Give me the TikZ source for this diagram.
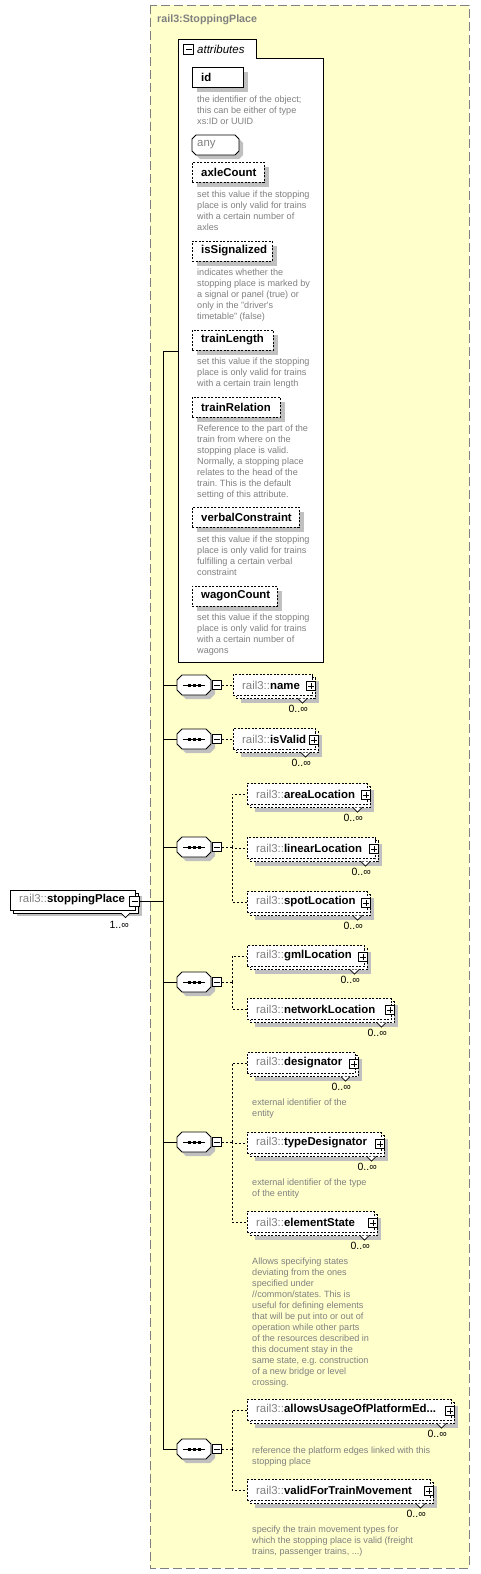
\documentclass[tikz,border=0pt]{standalone}
\usepackage{fontspec}
\setmainfont{Liberation Sans}
\frenchspacing
\definecolor{ybg}{RGB}{255,255,204}
\definecolor{yborder}{RGB}{128,128,128}
\definecolor{shadowc}{RGB}{192,192,192}
\definecolor{descc}{RGB}{128,128,128}
\definecolor{prefixc}{RGB}{128,128,128}
\definecolor{titlec}{RGB}{128,128,128}
\tikzset{
 conn/.style={draw=black, line width=1pt},
 dconn/.style={draw=black, line width=0.9pt, dash pattern=on 2pt off 2pt},
 ebox/.style={draw=black, fill=white, line width=0.8pt, inner sep=0},
 dashedbox/.style={ebox, dash pattern=on 2pt off 1.5pt},
 elabel/.style={font=\fontsize{11.4}{13}\selectfont, inner sep=0, anchor=west},
 desc/.style={font=\fontsize{9.1}{11}\selectfont, text=descc, align=left, inner sep=0, anchor=north west},
 mult/.style={font=\fontsize{10.5}{12}\selectfont, inner sep=0, anchor=east},
 pmbox/.style={draw=black, fill=white, line width=0.7pt, minimum size=9.5pt, inner sep=0},
 plusbox/.style={pmbox, path picture={\draw[line width=0.7pt] ([xshift=-3pt]path picture bounding box.center) -- ([xshift=3pt]path picture bounding box.center) ([yshift=-3pt]path picture bounding box.center) -- ([yshift=3pt]path picture bounding box.center);}},
 minusbox/.style={pmbox, path picture={\draw[line width=0.7pt] ([xshift=-3pt]path picture bounding box.center) -- ([xshift=3pt]path picture bounding box.center);}},
 hidden/.style={inner sep=0, draw=none, fill=none}
}
\newcommand\octpath[1]{(182,#1-10) -- (206,#1-10) -- (211,#1-5) -- (211,#1+5) -- (206,#1+10) -- (182,#1+10) -- (177,#1+5) -- (177,#1-5) -- cycle}
\newcommand\Seq[2]{%
 \fill[shadowc, shift={(4,4)}] \octpath{#2};
 \draw[line width=0.8pt, fill=white] \octpath{#2};
 \node[hidden, minimum width=34pt, minimum height=20pt] (#1) at (194,#2) {};
 \draw[line width=1pt] (183,#2) -- (205,#2);
 \fill (187.5,#2-1.5) rectangle (190.5,#2+1.5);
 \fill (192.5,#2-1.5) rectangle (195.5,#2+1.5);
 \fill (197.5,#2-1.5) rectangle (200.5,#2+1.5);
 \node[minusbox] (#1-m) at (217,#2) {};
}
\newcommand\Elem[5]{%
 \fill[shadowc] (#2+8,#4-4) rectangle (#3+7,#4+17.5);
 \draw[dashedbox] (#2+3,#4-7.5) rectangle (#3+3,#4+13.5);
 \node[dashedbox, minimum width={(#3-#2)*1pt}, minimum height=21pt, anchor=west] (#1) at (#2,#4) {};
 \node[elabel] (#1-t) at (#2+9,#4) {\textcolor{prefixc}{rail3::}\textbf{#5}};
 \draw[line width=0.7pt, fill=white] (#3-14,#4+13.5) -- (#3-9.5,#4+18) -- (#3-5,#4+13.5);
 \node[plusbox] (#1-p) at (#3-1,#4+1) {};
 \node[mult] (#1-m) at (#3-4,#4+24) {0..∞};
}
\newcommand\Attr[5]{%
 \fill[shadowc] (197,#3+5) rectangle (#2+5,#3+25);
 \node[#4, minimum width={(#2-192)*1pt}, minimum height=20pt, anchor=north west] (#1) at (192,#3) {};
 \node[elabel] (#1-t) at (201,#3+10) {\textbf{#5}};
}
\newcommand\Desc[4]{\node[desc] (#1) at (#2,#3-4) {#4};}
\begin{document}
\begin{tikzpicture}[x=1pt,y=-1pt]
\useasboundingbox (0,0) rectangle (480,1574);
\fill[white] (0,0) rectangle (480,1574);
% complex type frame
\draw[draw=yborder, fill=ybg, line width=1pt, dash pattern=on 9pt off 4pt] (150,5) rectangle (469,1568);
\node[anchor=west, inner sep=0, font=\bfseries\fontsize{10.7}{12}\selectfont, text=titlec] (title) at (157,20) {rail3:StoppingPlace};
% attributes box
\draw[line width=0.9pt, fill=white] (178,662) -- (178,39) -- (256,39) -- (256,58) -- (323,58) -- (323,662) -- cycle;
\node[minusbox] (attrm) at (188.5,49.5) {};
\node[anchor=west, inner sep=0, font=\itshape\fontsize{11.5}{13}\selectfont] (atitle) at (197,49) {attributes};
\coordinate (attrW) at (178,351);
\Attr{aid}{243}{67}{ebox}{id}
\Desc{aidd}{197}{100}{the identifier of the object;\\this can be either of type\\xs:ID or UUID}
\fill[shadowc, shift={(4,4)}] (196,135) -- (235,135) -- (239,139) -- (239,151) -- (235,155) -- (196,155) -- (192,151) -- (192,139) -- cycle;
\draw[line width=0.8pt, fill=white] (196,135) -- (235,135) -- (239,139) -- (239,151) -- (235,155) -- (196,155) -- (192,151) -- (192,139) -- cycle;
\node[elabel, text=prefixc] (aany) at (197,145) {any};
\Attr{aaxle}{264}{162}{dashedbox}{axleCount}
\Desc{aaxled}{197}{195}{set this value if the stopping\\place is only valid for trains\\with a certain number of\\axles}
\Attr{asig}{272}{241}{dashedbox}{isSignalized}
\Desc{asigd}{197}{273}{indicates whether the\\stopping place is marked by\\a signal or panel (true) or\\only in the "driver\textquotesingle s\\timetable" (false)}
\Attr{alen}{273}{330}{dashedbox}{trainLength}
\Desc{alend}{197}{362}{set this value if the stopping\\place is only valid for trains\\with a certain train length}
\Attr{arel}{280}{397}{dashedbox}{trainRelation}
\Desc{areld}{197}{429}{Reference to the part of the\\train from where on the\\stopping place is valid.\\Normally, a stopping place\\relates to the head of the\\train. This is the default\\setting of this attribute.}
\Attr{averb}{299}{507}{dashedbox}{verbalConstraint}
\Desc{averbd}{197}{540}{set this value if the stopping\\place is only valid for trains\\fulfilling a certain verbal\\constraint}
\Attr{awag}{277}{586}{dashedbox}{wagonCount}
\Desc{awagd}{197}{618}{set this value if the stopping\\place is only valid for trains\\with a certain number of\\wagons}
% root element
\fill[shadowc] (17,896) rectangle (142,916);
\draw[ebox] (13,893) rectangle (138,913);
\node[ebox, minimum width=125pt, minimum height=20pt, anchor=west] (sp) at (10,900) {};
\node[elabel] (sp-t) at (19,900) {\textcolor{prefixc}{rail3::}\textbf{stoppingPlace}};
\draw[line width=0.7pt, fill=white] (121,913) -- (125.5,917.5) -- (130,913);
\node[minusbox] (sp-m) at (134.5,901.5) {};
\node[mult] (sp-mult) at (129,925) {1..∞};
% trunk
\coordinate (trunkBot) at (163,1449);
\Seq{s1}{685}
\Seq{s2}{739}
\Seq{s3}{847}
\Seq{s4}{982}
\Seq{s5}{1142}
\Seq{s6}{1449}
\draw[conn] (attrW) -| (trunkBot);
\draw[conn] (sp-m.east) -- (sp-m.east -| trunkBot);
\foreach \s in {s1,s2,s3,s4,s5,s6} \draw[conn] (\s.west) -- (\s.west -| trunkBot);
% elements
\Elem{ename}{233}{312}{685}{name}
\Elem{evalid}{233}{315}{739}{isValid}
\Elem{earea}{247}{367}{794}{areaLocation}
\Elem{elinear}{247}{375}{848}{linearLocation}
\Elem{espot}{247}{367}{902}{spotLocation}
\Elem{egml}{247}{364}{956}{gmlLocation}
\Elem{enet}{247}{391}{1009}{networkLocation}
\Elem{edes}{247}{355}{1063}{designator}
\Desc{edesd}{252}{1103}{external identifier of the\\entity}
\Elem{etype}{247}{381}{1143}{typeDesignator}
\Desc{etyped}{252}{1183}{external identifier of the type\\of the entity}
\Elem{estate}{247}{374}{1222}{elementState}
\Desc{estated}{252}{1262}{Allows specifying states\\deviating from the ones\\specified under\\//common/states. This is\\useful for defining elements\\that will be put into or out of\\operation while other parts\\of the resources described in\\this document stay in the\\same state, e.g. construction\\of a new bridge or level\\crossing.}
\Elem{eplat}{247}{451}{1410}{allowsUsageOfPlatformEd...}
\Desc{eplatd}{252}{1451}{reference the platform edges linked with this\\stopping place}
\Elem{emove}{247}{430}{1490}{validForTrainMovement}
\Desc{emoved}{252}{1530}{specify the train movement types for\\which the stopping place is valid (freight\\trains, passenger trains, ...)}
% compositor connectors
\draw[dconn] (s1-m.east) -- (ename.west);
\draw[dconn] (s2-m.east) -- (evalid.west);
\coordinate (j3) at (232,847);
\coordinate (j4) at (232,982);
\coordinate (j5) at (232,1142);
\coordinate (j6) at (232,1449);
\draw[dconn] (s3-m.east) -- (j3);
\draw[dconn] (s4-m.east) -- (j4);
\draw[dconn] (s5-m.east) -- (j5);
\draw[dconn] (s6-m.east) -- (j6);
\foreach \e in {earea,elinear,espot} \draw[dconn] (j3) |- (\e.west);
\foreach \e in {egml,enet} \draw[dconn] (j4) |- (\e.west);
\foreach \e in {edes,etype,estate} \draw[dconn] (j5) |- (\e.west);
\foreach \e in {eplat,emove} \draw[dconn] (j6) |- (\e.west);
\end{tikzpicture}
\end{document}
